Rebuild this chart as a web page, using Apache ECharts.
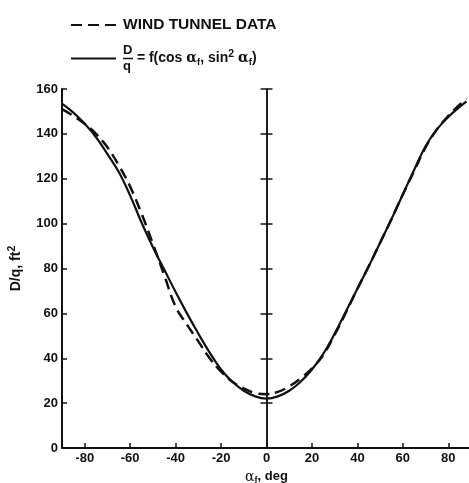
<!DOCTYPE html>
<html>
<head>
<meta charset="utf-8">
<script src="https://cdn.jsdelivr.net/npm/echarts@6/dist/echarts.min.js"></script>
<style>
  html, body { margin: 0; padding: 0; background: #fff; }
  #chart { width: 469px; height: 483px; }
</style>
</head>
<body>
<div id="chart"></div>
<script>
// ---- data ----
var alphaDeg = [-90, -85, -80, -75, -70, -65, -60, -55, -50, -45, -40, -35, -30, -25, -20, -15, -10, -5, 0, 5, 10, 15, 20, 25, 30, 35, 40, 45, 50, 55, 60, 65, 70, 75, 80, 85, 88];
var windTunnel = [151, 148, 144.5, 140, 134, 126, 116.5, 104.5, 91, 77, 63, 55, 47.5, 40, 34, 29.5, 26.5, 24.5, 24, 25, 27.5, 31, 35.5, 41.5, 50.5, 60.5, 71, 81, 91.5, 102, 113, 123.5, 134, 142, 148, 153, 155.5];
var fitValues = [153.5, 149.5, 144.5, 138.5, 131, 123, 112.5, 100.5, 89.5, 79.5, 69.5, 60, 51, 42.5, 35, 29.5, 25.5, 23, 22, 23, 25.5, 29.5, 35, 42, 51, 61, 71, 81, 91.5, 102, 113, 124, 134.5, 142, 147.5, 152, 154.5];
var xTicks = [-80, -60, -40, -20, 0, 20, 40, 60, 80];
var seriesNames = ['WIND TUNNEL DATA', 'D/q = f(cos αf, sin² αf)'];

function pairs(xs, ys) { return xs.map(function (x, i) { return [x, ys[i]]; }); }

var ink = '#111';
var font = '"Liberation Sans", Arial, Helvetica, sans-serif';
var greek = '"DejaVu Serif", serif';

var chart = echarts.init(document.getElementById('chart'), null, { renderer: 'canvas' });

function yAxisBase() {
  return {
    type: 'value', min: 0, max: 160, interval: 20,
    splitLine: { show: false }
  };
}

var option = {
  backgroundColor: '#fff',
  animation: false,
  textStyle: { fontFamily: font },
  grid: { left: 62, right: -2, top: 89, bottom: 35, containLabel: false, outerBoundsMode: 'none' },
  legend: {
    orient: 'vertical',
    left: 70, top: 17, padding: 0,
    itemWidth: 45, itemHeight: 14, itemGap: 11,
    itemStyle: { opacity: 0 },
    data: seriesNames,
    formatter: function (name) {
      if (name === seriesNames[0]) return '{w|' + name + '}';
      return '{n|D}\n{bar|}{t| = f(cos }{a|α}{s|f}{t|, sin}{p|2}{t| }{a|α}{s|f}{t|)}\n{n|q}';
    },
    textStyle: {
      color: ink, fontFamily: font, fontWeight: 'bold', fontSize: 14, padding: [0, 0, 0, 2],
      rich: {
        w: { fontSize: 15.5, fontWeight: 'bold', color: ink, fontFamily: font },
        n: { fontSize: 13, fontWeight: 'bold', color: ink, fontFamily: font, lineHeight: 11 },
        bar: { width: 10, height: 1.5, backgroundColor: ink, lineHeight: 5 },
        t: { fontSize: 14, fontWeight: 'bold', color: ink, fontFamily: font, lineHeight: 5 },
        a: { fontSize: 14, color: ink, fontFamily: greek, lineHeight: 5 },
        s: { fontSize: 9.5, fontWeight: 'bold', color: ink, fontFamily: font, lineHeight: 5, padding: [8, 0, 0, 0] },
        p: { fontSize: 10.5, fontWeight: 'bold', color: ink, fontFamily: font, lineHeight: 5, padding: [0, 0, 9, 0] }
      }
    }
  },
  xAxis: {
    type: 'value', min: -90, max: 90,
    name: '{a|α}{s|f}{t|, deg}',
    nameLocation: 'middle', nameGap: 20,
    nameTextStyle: {
      rich: {
        a: { fontSize: 14, color: ink, fontFamily: greek },
        s: { fontSize: 9, fontWeight: 'bold', color: ink, fontFamily: font, padding: [7, 0, 0, 0] },
        t: { fontSize: 13, fontWeight: 'bold', color: ink, fontFamily: font }
      }
    },
    axisLine: { onZero: false, lineStyle: { color: ink, width: 2 } },
    axisTick: { inside: true, length: 5, customValues: xTicks, lineStyle: { color: ink, width: 1.5 } },
    axisLabel: { customValues: xTicks, color: ink, fontSize: 13, fontWeight: 'bold', fontFamily: font, margin: 4 },
    splitLine: { show: false }
  },
  yAxis: [
    Object.assign(yAxisBase(), {
      position: 'left',
      name: '{t|D/q, ft}{p|2}',
      nameLocation: 'middle', nameGap: 36, nameRotate: 90,
      nameTextStyle: {
        rich: {
          t: { fontSize: 14, fontWeight: 'bold', color: ink, fontFamily: font },
          p: { fontSize: 10.5, fontWeight: 'bold', color: ink, fontFamily: font, padding: [0, 0, 8, 0] }
        }
      },
      axisLine: { show: true, onZero: false, lineStyle: { color: ink, width: 2 } },
      axisTick: { show: true, inside: true, length: 5, lineStyle: { color: ink, width: 1.5 } },
      axisLabel: { color: ink, fontSize: 13, fontWeight: 'bold', fontFamily: font, margin: 4 }
    }),
    Object.assign(yAxisBase(), {
      position: 'left',
      axisLine: { show: true, onZero: true, onZeroAxisIndex: 0, lineStyle: { color: ink, width: 1.5 } },
      axisTick: { show: true, inside: true, length: 6, lineStyle: { color: ink, width: 1.5 } },
      axisLabel: { show: false }
    }),
    Object.assign(yAxisBase(), {
      position: 'left',
      axisLine: { show: true, onZero: true, onZeroAxisIndex: 0, lineStyle: { color: ink, width: 1.5 } },
      axisTick: { show: true, inside: false, length: 6, lineStyle: { color: ink, width: 1.5 } },
      axisLabel: { show: false }
    })
  ],
  series: [
    {
      name: seriesNames[0], type: 'line', yAxisIndex: 0,
      data: pairs(alphaDeg, windTunnel), smooth: 0.4, symbol: 'none',
      lineStyle: { color: ink, width: 2.5, type: [11, 6] }, itemStyle: { color: ink }
    },
    {
      name: seriesNames[1], type: 'line', yAxisIndex: 0,
      data: pairs(alphaDeg, fitValues), smooth: 0.4, symbol: 'none',
      lineStyle: { color: ink, width: 2.2, type: 'solid' }, itemStyle: { color: ink }
    }
  ]
};
chart.setOption(option);
</script>
</body>
</html>
